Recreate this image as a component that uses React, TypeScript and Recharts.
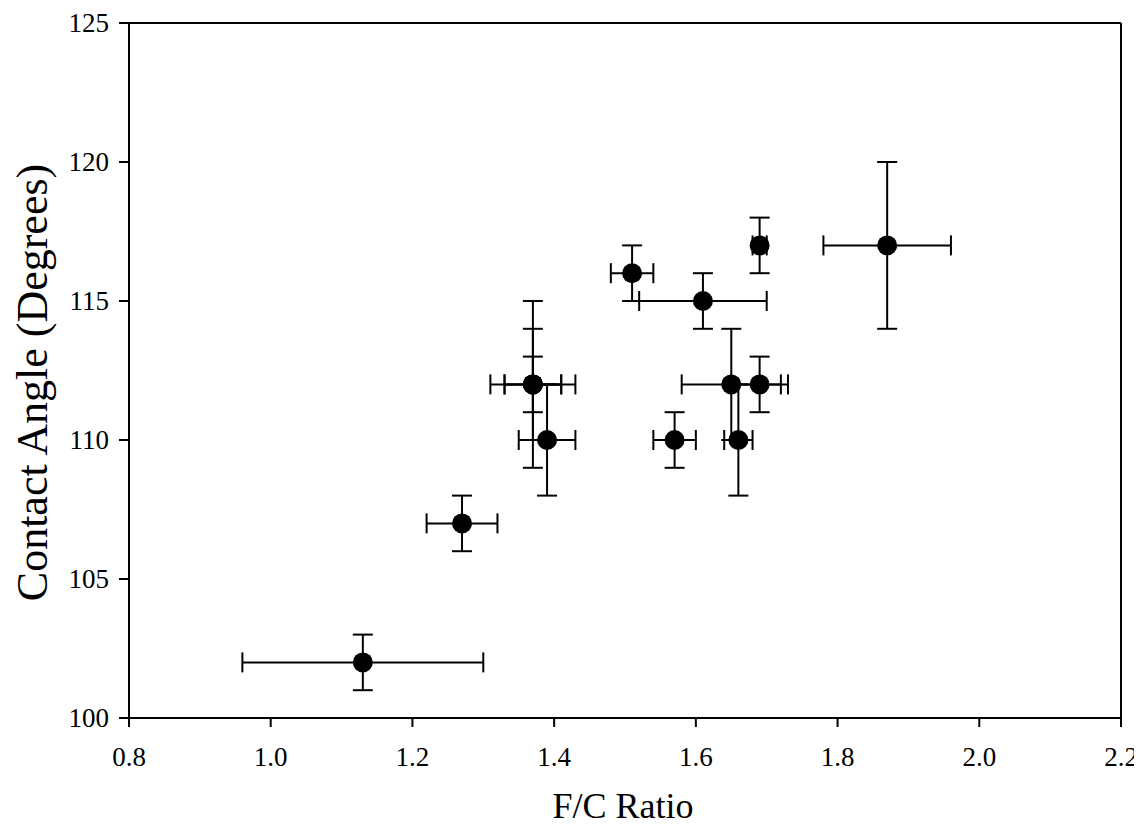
import React from 'react';
import { ScatterChart, Scatter, XAxis, YAxis, ErrorBar, ReferenceLine } from 'recharts';

const fcRatio = [1.13, 1.27, 1.37, 1.37, 1.37, 1.39, 1.51, 1.61, 1.69, 1.65, 1.69, 1.66, 1.57, 1.87];
const contactAngle = [102, 107, 112, 112, 112, 110, 116, 115, 117, 112, 112, 110, 110, 117];
const fcError = [0.17, 0.05, 0.06, 0.04, 0.04, 0.04, 0.03, 0.09, 0.01, 0.07, 0.04, 0.02, 0.03, 0.09];
const angleError = [1, 1, 3, 2, 1, 2, 1, 1, 1, 2, 1, 2, 1, 3];

const xTicks = [0.8, 1.0, 1.2, 1.4, 1.6, 1.8, 2.0, 2.2];
const yTicks = [100, 105, 110, 115, 120, 125];

const data = fcRatio.map((x, i) => ({
  x,
  y: contactAngle[i],
  xErr: fcError[i],
  yErr: angleError[i],
}));

const FONT = '"Liberation Serif", "Times New Roman", serif';

const Dot = (props: any) => {
  const { cx, cy } = props;
  if (cx == null || cy == null) return null;
  return <circle cx={cx} cy={cy} r={10} fill="#000" />;
};

const XTick = (props: any) => {
  const { x, y, payload } = props;
  return (
    <text x={x} y={y} dy="0.71em" textAnchor="middle" fill="#000" fontSize={27} fontFamily={FONT}>
      {Number(payload.value).toFixed(1)}
    </text>
  );
};

const YTick = (props: any) => {
  const { x, y, payload } = props;
  return (
    <text x={x} y={y} dy="0.35em" textAnchor="end" fill="#000" fontSize={27} fontFamily={FONT}>
      {payload.value}
    </text>
  );
};

export default function App() {
  return (
    <div style={{ width: 1134, height: 819 }}>
      <ScatterChart
        width={1134}
        height={819}
        margin={{ top: 15, right: 21, left: 0, bottom: 0 }}
      >
        <XAxis
          type="number"
          dataKey="x"
          domain={[0.8, 2.2]}
          ticks={xTicks}
          allowDataOverflow
          height={109}
          tickSize={9}
          tickMargin={20}
          axisLine={{ stroke: '#000', strokeWidth: 2 }}
          tickLine={{ stroke: '#000', strokeWidth: 2 }}
          tick={<XTick />}
          label={{
            value: 'F/C Ratio',
            position: 'insideBottom',
            offset: 9,
            dx: -2,
            fill: '#000',
            fontSize: 36,
            fontFamily: FONT,
          }}
        />
        <YAxis
          type="number"
          dataKey="y"
          domain={[100, 125]}
          ticks={yTicks}
          allowDataOverflow
          width={121}
          tickSize={10}
          tickMargin={10}
          axisLine={{ stroke: '#000', strokeWidth: 2 }}
          tickLine={{ stroke: '#000', strokeWidth: 2 }}
          tick={<YTick />}
          label={{
            value: 'Contact Angle (Degrees)',
            angle: -90,
            position: 'center',
            dx: -37,
            dy: 12,
            fill: '#000',
            fontSize: 44,
            fontFamily: FONT,
          }}
        />
        <ReferenceLine y={125} stroke="#000" strokeWidth={2} />
        <ReferenceLine x={2.2} stroke="#000" strokeWidth={2} />
        <Scatter data={data} isAnimationActive={false} shape={Dot}>
          <ErrorBar dataKey="xErr" direction="x" width={10} stroke="#000" strokeWidth={2} />
          <ErrorBar dataKey="yErr" direction="y" width={10} stroke="#000" strokeWidth={2} />
        </Scatter>
      </ScatterChart>
    </div>
  );
}
